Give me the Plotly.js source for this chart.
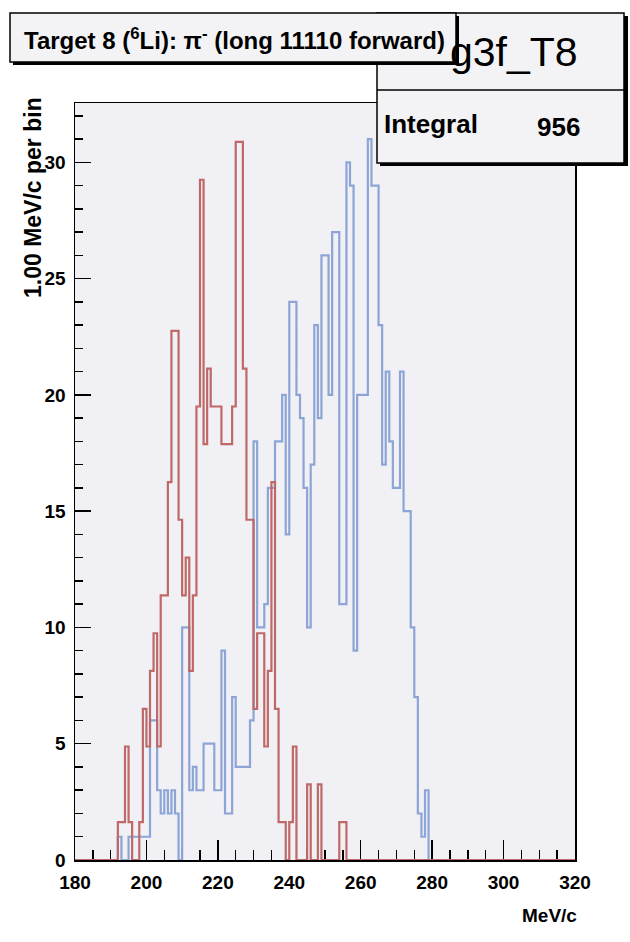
<!DOCTYPE html>
<html>
<head>
<meta charset="utf-8">
<script src="https://cdn.plot.ly/plotly-3.0.1.min.js"></script>
<style>
  html, body { margin: 0; padding: 0; background: #ffffff; }
  #chart { width: 630px; height: 942px; }
</style>
</head>
<body>
<div id="chart"></div>
<script>
// ---- axis range (MeV/c), 1.00 MeV/c bins ----
const xMin = 180;
const xMax = 320;
const binStart = 190;          // first bin (low edge) of the arrays below

// blue histogram (g3f_T8): entries per bin, bins 190 .. 279
const blueCounts = [
  0, 0, 1, 0, 0, 1, 1, 1, 1, 1,        // 190-199
  1, 6, 6, 3, 2, 3, 2, 3, 2, 0,        // 200-209
  10, 10, 3, 4, 3, 3, 5, 5, 5, 3,      // 210-219
  3, 9, 2, 2, 7, 4, 4, 4, 4, 6,        // 220-229
  18, 10, 10, 11, 16, 16, 18, 18, 20, 14, // 230-239
  24, 24, 20, 19, 16, 10, 17, 23, 19, 26, // 240-249
  26, 20, 27, 27, 11, 11, 30, 29, 9, 20,  // 250-259
  20, 20, 31, 29, 29, 23, 17, 21, 18, 16, // 260-269
  16, 21, 15, 15, 10, 7, 2, 1, 3, 0       // 270-279
];

// red histogram (weighted), bins 190 .. 255
const redValues = [
  0, 0, 1.63, 1.63, 4.88, 1.63, 0, 0, 1.63, 6.5,          // 190-199
  4.88, 8.13, 9.75, 4.88, 11.38, 11.38, 16.25, 22.75, 22.75, 14.63, // 200-209
  11.38, 13.0, 8.13, 11.38, 19.5, 29.25, 17.88, 21.13, 19.5, 19.5,   // 210-219
  19.5, 17.88, 17.88, 17.88, 19.5, 30.88, 30.88, 21.13, 14.63, 14.63, // 220-229
  6.5, 9.75, 9.75, 4.88, 8.13, 16.25, 6.5, 1.63, 1.63, 0,            // 230-239
  1.63, 4.88, 0, 0, 0, 3.25, 0, 0, 3.25, 0,                          // 240-249
  0, 0, 0, 0, 1.63, 1.63                                             // 250-255
];

const titleText = 'Target 8 (<sup>6</sup>Li): π<sup>-</sup> (long 11110 forward)';
const statName = 'g3f_T8';
const statLabel = 'Integral';
const statValue = '956';
const yTitle = '1.00 MeV/c per bin';
const xTitle = 'MeV/c';

// ---- build step outlines over the full axis range ----
function stepSeries(vals) {
  const xs = [], ys = [];
  for (let e = xMin; e < xMax; e++) {
    const i = e - binStart;
    xs.push(e);
    ys.push(i >= 0 && i < vals.length ? vals[i] : 0);
  }
  xs.push(xMax);
  ys.push(ys[ys.length - 1]);
  return { xs, ys };
}

const blue = stepSeries(blueCounts);
const red = stepSeries(redValues);

const FONT = 'Liberation Sans, Arial, Helvetica, sans-serif';
const blueColor = '#8da5d6';
const redColor = '#bf6868';

const traces = [
  { type: 'scatter', mode: 'lines', x: blue.xs, y: blue.ys,
    line: { shape: 'hv', color: blueColor, width: 2.2 }, hoverinfo: 'skip' },
  { type: 'scatter', mode: 'lines', x: red.xs, y: red.ys,
    line: { shape: 'hv', color: redColor, width: 2.2 }, hoverinfo: 'skip' }
];

// layout geometry helpers (pixel -> paper)
const L = 75, R = 575, T = 103, B = 860;
const px = v => (v - L) / (R - L);
const py = v => (B - v) / (B - T);

const boxFill = '#f3f3f5';
const shapes = [
  // stat box shadow + box
  { type: 'rect', xref: 'paper', yref: 'paper', x0: px(380), x1: px(628), y0: py(166), y1: py(16),
    fillcolor: '#000', line: { width: 0 }, layer: 'above' },
  { type: 'rect', xref: 'paper', yref: 'paper', x0: px(377), x1: px(624), y0: py(163), y1: py(13),
    fillcolor: boxFill, line: { color: '#000', width: 1.5 }, layer: 'above' },
  { type: 'line', xref: 'paper', yref: 'paper', x0: px(377), x1: px(624), y0: py(90), y1: py(90),
    line: { color: '#000', width: 1.5 }, layer: 'above' },
  // title box shadow + box
  { type: 'rect', xref: 'paper', yref: 'paper', x0: px(13), x1: px(459), y0: py(65), y1: py(16),
    fillcolor: '#000', line: { width: 0 }, layer: 'above' },
  { type: 'rect', xref: 'paper', yref: 'paper', x0: px(10), x1: px(456), y0: py(62), y1: py(13),
    fillcolor: boxFill, line: { color: '#000', width: 1.5 }, layer: 'above' }
];

const annotations = [
  { text: titleText, xref: 'paper', yref: 'paper', x: px(234), y: py(39),
    xanchor: 'center', yanchor: 'middle', showarrow: false,
    font: { family: FONT, size: 24, weight: 'bold', color: '#000' } },
  { text: statName, xref: 'paper', yref: 'paper', x: px(514), y: py(52),
    xanchor: 'center', yanchor: 'middle', showarrow: false,
    font: { family: FONT, size: 41, color: '#000' } },
  { text: statLabel, xref: 'paper', yref: 'paper', x: px(382), y: py(124),
    xanchor: 'left', yanchor: 'middle', showarrow: false,
    font: { family: FONT, size: 26, weight: 'bold', color: '#000' } },
  { text: statValue, xref: 'paper', yref: 'paper', x: px(582), y: py(127),
    xanchor: 'right', yanchor: 'middle', showarrow: false,
    font: { family: FONT, size: 26, weight: 'bold', color: '#000' } },
  { text: yTitle, xref: 'paper', yref: 'paper', x: px(33), y: py(198),
    xanchor: 'center', yanchor: 'middle', textangle: -90, showarrow: false,
    font: { family: FONT, size: 23, weight: 'bold', color: '#000' } },
  { text: xTitle, xref: 'paper', yref: 'paper', x: px(579), y: py(915),
    xanchor: 'right', yanchor: 'middle', showarrow: false,
    font: { family: FONT, size: 19, weight: 'bold', color: '#000' } }
];

const tickFont = { family: FONT, size: 19, weight: 'bold', color: '#000' };

const layout = {
  width: 630, height: 942,
  margin: { l: L, r: 630 - R, t: T, b: 942 - B, pad: 0 },
  paper_bgcolor: '#ffffff',
  plot_bgcolor: '#f1f1f5',
  showlegend: false,
  xaxis: {
    range: [xMin, xMax], tick0: 180, dtick: 20, tickmode: 'linear',
    ticks: 'inside', ticklen: 20, tickwidth: 1.5, tickcolor: '#000',
    showline: true, linecolor: '#000', linewidth: 1.5, mirror: true,
    showgrid: false, zeroline: false, tickfont: tickFont, ticklabelstandoff: 5,
    minor: { dtick: 5, tick0: 180, ticks: 'inside', ticklen: 10, tickwidth: 1.5, tickcolor: '#000', showgrid: false },
    layer: 'below traces', fixedrange: true
  },
  yaxis: {
    range: [0, 32.55], tick0: 0, dtick: 5, tickmode: 'linear',
    ticks: 'inside', ticklen: 16, tickwidth: 1.5, tickcolor: '#000',
    showline: true, linecolor: '#000', linewidth: 1.5, mirror: true,
    showgrid: false, zeroline: false, tickfont: tickFont, ticklabelstandoff: 4,
    minor: { dtick: 1, tick0: 0, ticks: 'inside', ticklen: 8, tickwidth: 1.5, tickcolor: '#000', showgrid: false },
    layer: 'below traces', fixedrange: true
  },
  shapes: shapes,
  annotations: annotations
};

Plotly.newPlot('chart', traces, layout, { staticPlot: true, displayModeBar: false });
</script>
</body>
</html>
